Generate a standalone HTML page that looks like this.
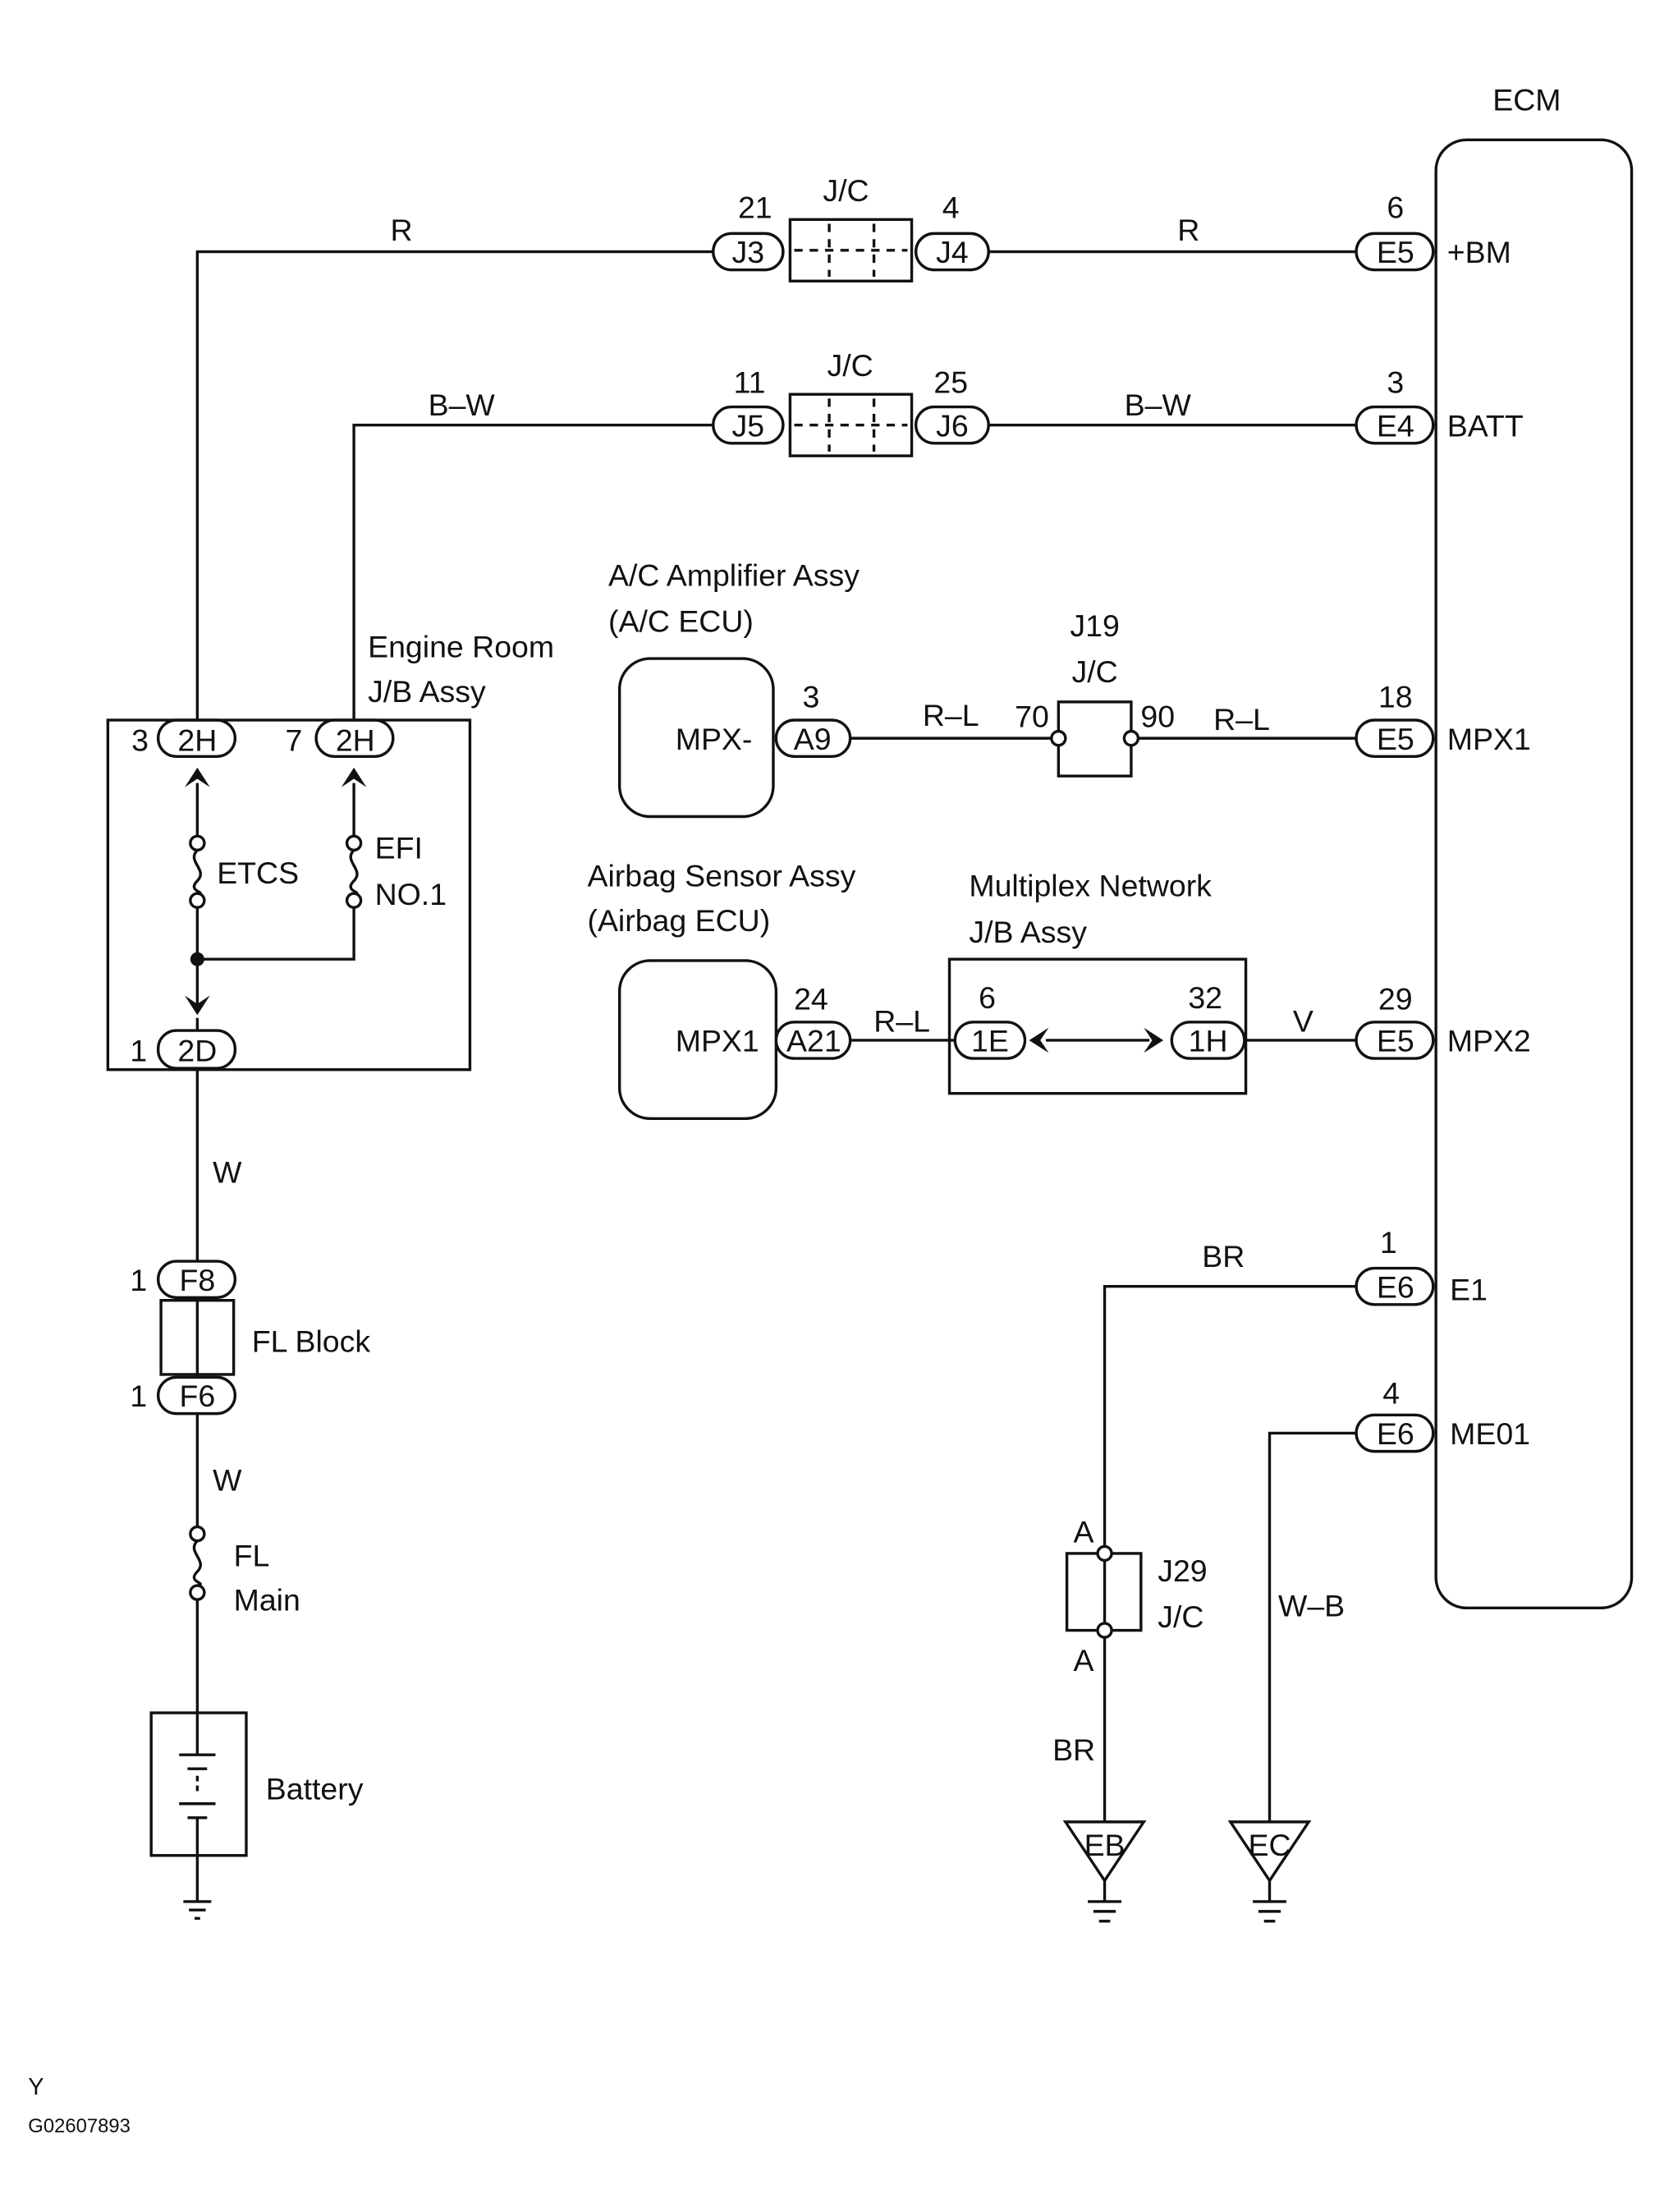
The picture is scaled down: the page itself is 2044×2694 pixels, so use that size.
<!DOCTYPE html>
<html><head><meta charset="utf-8"><style>
html,body{margin:0;padding:0;background:#fff}
svg{display:block}
text{font-family:"Liberation Sans",Arial,sans-serif;font-size:22px;fill:#111}
</style></head><body>
<svg width="2044" height="2694" viewBox="0 0 1200 1582" xmlns="http://www.w3.org/2000/svg">
<g stroke="#111" stroke-width="2" fill="none">
<!-- ECM -->
<rect x="1027" y="100" width="140" height="1050" rx="22"/>
<!-- row1 -->
<polyline points="141,515 141,180 510,180"/>
<line x1="707" y1="180" x2="970" y2="180"/>
<rect x="510" y="167" width="50" height="26" rx="13"/>
<rect x="565" y="157" width="87" height="44"/>
<line x1="593" y1="160" x2="593" y2="198" stroke-dasharray="6,5"/>
<line x1="625" y1="160" x2="625" y2="198" stroke-dasharray="6,5"/>
<line x1="568" y1="179" x2="649" y2="179" stroke-dasharray="6,5"/>
<rect x="655" y="167" width="52" height="26" rx="13"/>
<rect x="970" y="167" width="55" height="26" rx="13"/>
<!-- row2 -->
<polyline points="253,515 253,304 510,304"/>
<line x1="707" y1="304" x2="970" y2="304"/>
<rect x="510" y="291" width="50" height="26" rx="13"/>
<rect x="565" y="282" width="87" height="44"/>
<line x1="593" y1="285" x2="593" y2="323" stroke-dasharray="6,5"/>
<line x1="625" y1="285" x2="625" y2="323" stroke-dasharray="6,5"/>
<line x1="568" y1="304" x2="649" y2="304" stroke-dasharray="6,5"/>
<rect x="655" y="291" width="52" height="26" rx="13"/>
<rect x="970" y="291" width="55" height="26" rx="13"/>
<!-- A/C -->
<rect x="443" y="471" width="110" height="113" rx="22"/>
<rect x="555" y="515" width="53" height="26" rx="13"/>
<line x1="608" y1="528" x2="757" y2="528"/>
<rect x="757" y="502" width="52" height="53"/>
<line x1="809" y1="528" x2="970" y2="528"/>
<rect x="970" y="515" width="55" height="26" rx="13"/>
<!-- airbag -->
<rect x="443" y="687" width="112" height="113" rx="22"/>
<rect x="555" y="731" width="53" height="26" rx="13"/>
<line x1="608" y1="744" x2="683" y2="744"/>
<rect x="679" y="686" width="212" height="96"/>
<rect x="683" y="731" width="50" height="26" rx="13"/>
<rect x="838" y="731" width="52" height="26" rx="13"/>
<line x1="748" y1="744" x2="822" y2="744"/>
<line x1="890" y1="744" x2="970" y2="744"/>
<rect x="970" y="731" width="55" height="26" rx="13"/>
<!-- engine room JB -->
<rect x="77" y="515" width="259" height="250"/>
<rect x="113" y="515" width="55" height="26" rx="13"/>
<rect x="226" y="515" width="55" height="26" rx="13"/>
<line x1="141" y1="560" x2="141" y2="598"/>
<path d="M141,608 c-8,8 8,14 0,22 c-8,8 8,8 0,10"/>
<line x1="141" y1="649" x2="141" y2="720"/>
<line x1="253" y1="560" x2="253" y2="598"/>
<path d="M253,608 c-8,8 8,14 0,22 c-8,8 8,8 0,10"/>
<polyline points="253,649 253,686 141,686"/>
<line x1="141" y1="728" x2="141" y2="737"/>
<rect x="113" y="737" width="55" height="27" rx="13"/>
<line x1="141" y1="764" x2="141" y2="902"/>
<rect x="113" y="902" width="55" height="26" rx="13"/>
<rect x="115" y="930" width="52" height="53"/>
<line x1="141" y1="928" x2="141" y2="985"/>
<rect x="113" y="985" width="55" height="26" rx="13"/>
<line x1="141" y1="1011" x2="141" y2="1092"/>
<path d="M141,1102 c-8,8 8,14 0,22 c-8,8 8,8 0,10"/>
<line x1="141" y1="1144" x2="141" y2="1225"/>
<rect x="108" y="1225" width="68" height="102"/>
<line x1="141" y1="1225" x2="141" y2="1255"/>
<line x1="128" y1="1255" x2="154" y2="1255"/>
<line x1="134" y1="1265" x2="148" y2="1265"/>
<line x1="141" y1="1270" x2="141" y2="1283" stroke-dasharray="4,3"/>
<line x1="128" y1="1290" x2="154" y2="1290"/>
<line x1="134" y1="1300" x2="148" y2="1300"/>
<line x1="141" y1="1300" x2="141" y2="1360"/>
<line x1="131" y1="1360" x2="151" y2="1360"/>
<line x1="135" y1="1366" x2="147" y2="1366"/>
<line x1="139" y1="1372" x2="143" y2="1372"/>
<!-- E1 -->
<polyline points="970,920 790,920 790,1106"/>
<rect x="970" y="907" width="55" height="26" rx="13"/>
<rect x="763" y="1111" width="53" height="55"/>
<line x1="790" y1="1116" x2="790" y2="1161"/>
<line x1="790" y1="1171" x2="790" y2="1303"/>
<polygon points="762,1303 818,1303 790,1345"/>
<line x1="790" y1="1345" x2="790" y2="1360"/>
<line x1="778" y1="1360" x2="802" y2="1360"/>
<line x1="782" y1="1367" x2="798" y2="1367"/>
<line x1="786" y1="1374" x2="794" y2="1374"/>
<!-- ME01 -->
<polyline points="970,1025 908,1025 908,1303"/>
<rect x="970" y="1012" width="55" height="26" rx="13"/>
<polygon points="880,1303 936,1303 908,1345"/>
<line x1="908" y1="1345" x2="908" y2="1360"/>
<line x1="896" y1="1360" x2="920" y2="1360"/>
<line x1="900" y1="1367" x2="916" y2="1367"/>
<line x1="904" y1="1374" x2="912" y2="1374"/>
</g>
<g fill="#fff" stroke="#111" stroke-width="2">
<circle cx="757" cy="528" r="5"/><circle cx="809" cy="528" r="5"/>
<circle cx="141" cy="603" r="5"/><circle cx="141" cy="644" r="5"/>
<circle cx="253" cy="603" r="5"/><circle cx="253" cy="644" r="5"/>
<circle cx="141" cy="1097" r="5"/><circle cx="141" cy="1139" r="5"/>
<circle cx="790" cy="1111" r="5"/><circle cx="790" cy="1166" r="5"/>
</g>
<g fill="#111">
<circle cx="141" cy="686" r="5"/>
<path d="M132,563 L141,549 L150,563 L141,557Z"/>
<path d="M244,563 L253,549 L262,563 L253,557Z"/>
<path d="M132,712 L141,726 L150,712 L141,718Z"/>
<path d="M750,735 L736,744 L750,753 L744,744Z"/>
<path d="M818,735 L832,744 L818,753 L824,744Z"/>
</g>
<g>
<text x="1092" y="79" text-anchor="middle">ECM</text>
<text x="287" y="172" text-anchor="middle">R</text>
<text x="540" y="156" text-anchor="middle">21</text>
<text x="605" y="144" text-anchor="middle">J/C</text>
<text x="680" y="156" text-anchor="middle">4</text>
<text x="850" y="172" text-anchor="middle">R</text>
<text x="998" y="156" text-anchor="middle">6</text>
<text x="535" y="188" text-anchor="middle">J3</text>
<text x="681" y="188" text-anchor="middle">J4</text>
<text x="998" y="188" text-anchor="middle">E5</text>
<text x="1035" y="188">+BM</text>
<text x="330" y="297" text-anchor="middle">B–W</text>
<text x="536" y="281" text-anchor="middle">11</text>
<text x="608" y="269" text-anchor="middle">J/C</text>
<text x="680" y="281" text-anchor="middle">25</text>
<text x="828" y="297" text-anchor="middle">B–W</text>
<text x="998" y="281" text-anchor="middle">3</text>
<text x="535" y="312" text-anchor="middle">J5</text>
<text x="681" y="312" text-anchor="middle">J6</text>
<text x="998" y="312" text-anchor="middle">E4</text>
<text x="1035" y="312">BATT</text>
<text x="435" y="419">A/C Amplifier Assy</text>
<text x="435" y="452">(A/C ECU)</text>
<text x="783" y="455" text-anchor="middle">J19</text>
<text x="783" y="488" text-anchor="middle">J/C</text>
<text x="483" y="536">MPX-</text>
<text x="580" y="506" text-anchor="middle">3</text>
<text x="581" y="536" text-anchor="middle">A9</text>
<text x="680" y="519" text-anchor="middle">R–L</text>
<text x="738" y="520" text-anchor="middle">70</text>
<text x="828" y="520" text-anchor="middle">90</text>
<text x="888" y="522" text-anchor="middle">R–L</text>
<text x="998" y="506" text-anchor="middle">18</text>
<text x="998" y="536" text-anchor="middle">E5</text>
<text x="1035" y="536">MPX1</text>
<text x="420" y="634">Airbag Sensor Assy</text>
<text x="420" y="666">(Airbag ECU)</text>
<text x="693" y="641">Multiplex Network</text>
<text x="693" y="674">J/B Assy</text>
<text x="483" y="752">MPX1</text>
<text x="580" y="722" text-anchor="middle">24</text>
<text x="582" y="752" text-anchor="middle">A21</text>
<text x="645" y="738" text-anchor="middle">R–L</text>
<text x="706" y="721" text-anchor="middle">6</text>
<text x="708" y="752" text-anchor="middle">1E</text>
<text x="862" y="721" text-anchor="middle">32</text>
<text x="864" y="752" text-anchor="middle">1H</text>
<text x="932" y="738" text-anchor="middle">V</text>
<text x="998" y="722" text-anchor="middle">29</text>
<text x="998" y="752" text-anchor="middle">E5</text>
<text x="1035" y="752">MPX2</text>
<text x="263" y="470">Engine Room</text>
<text x="263" y="502">J/B Assy</text>
<text x="100" y="537" text-anchor="middle">3</text>
<text x="141" y="537" text-anchor="middle">2H</text>
<text x="210" y="537" text-anchor="middle">7</text>
<text x="254" y="537" text-anchor="middle">2H</text>
<text x="155" y="632">ETCS</text>
<text x="268" y="614">EFI</text>
<text x="268" y="647">NO.1</text>
<text x="99" y="759" text-anchor="middle">1</text>
<text x="141" y="759" text-anchor="middle">2D</text>
<text x="152" y="846">W</text>
<text x="99" y="923" text-anchor="middle">1</text>
<text x="141" y="923" text-anchor="middle">F8</text>
<text x="180" y="967">FL Block</text>
<text x="99" y="1006" text-anchor="middle">1</text>
<text x="141" y="1006" text-anchor="middle">F6</text>
<text x="152" y="1066">W</text>
<text x="167" y="1120">FL</text>
<text x="167" y="1152">Main</text>
<text x="190" y="1287">Battery</text>
<text x="875" y="906" text-anchor="middle">BR</text>
<text x="993" y="896" text-anchor="middle">1</text>
<text x="998" y="928" text-anchor="middle">E6</text>
<text x="1037" y="930">E1</text>
<text x="995" y="1004" text-anchor="middle">4</text>
<text x="998" y="1033" text-anchor="middle">E6</text>
<text x="1037" y="1033">ME01</text>
<text x="775" y="1103" text-anchor="middle">A</text>
<text x="775" y="1195" text-anchor="middle">A</text>
<text x="828" y="1131">J29</text>
<text x="828" y="1164">J/C</text>
<text x="938" y="1156" text-anchor="middle">W–B</text>
<text x="768" y="1259" text-anchor="middle">BR</text>
<text x="790" y="1327" text-anchor="middle">EB</text>
<text x="908" y="1327" text-anchor="middle">EC</text>
<text x="20" y="1498" style="font-size:17px">Y</text>
<text x="20" y="1525" style="font-size:14px">G02607893</text>
</g>
</svg>
</body></html>
